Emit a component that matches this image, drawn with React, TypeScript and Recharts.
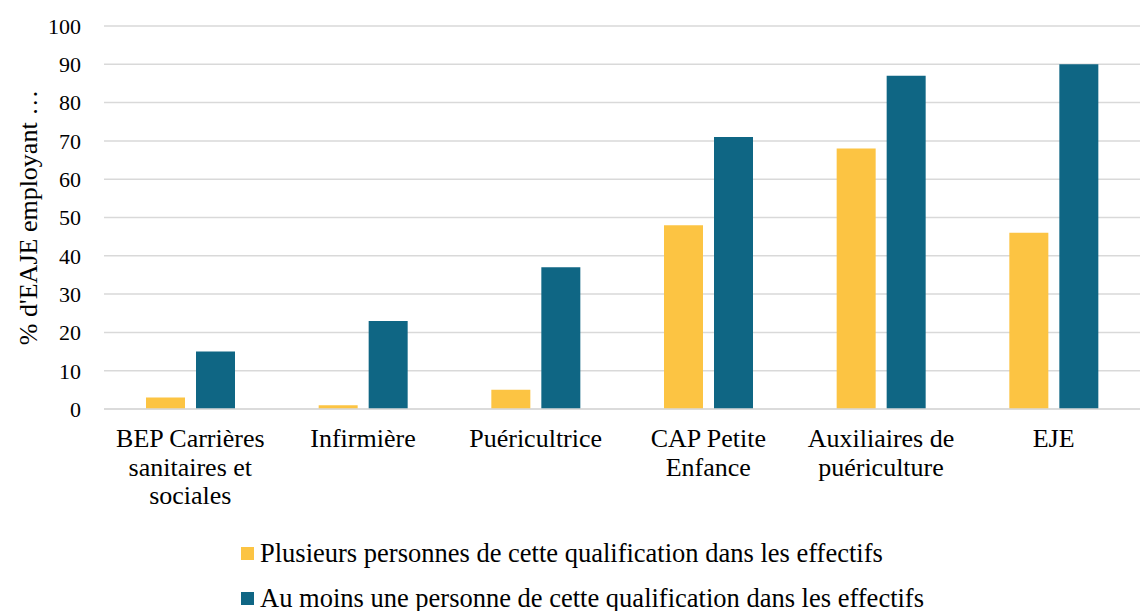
import React from "react";
import { BarChart, Bar, XAxis, YAxis, CartesianGrid, Legend } from "recharts";

const categories = [
  "BEP Carrières\nsanitaires et\nsociales",
  "Infirmière",
  "Puéricultrice",
  "CAP Petite\nEnfance",
  "Auxiliaires de\npuériculture",
  "EJE",
];
const plusieurs = [3, 1, 5, 48, 68, 46];
const auMoinsUne = [15, 23, 37, 71, 87, 90];
const yTicks = [0, 10, 20, 30, 40, 50, 60, 70, 80, 90, 100];

const seriesNames = [
  "Plusieurs personnes de cette qualification dans les effectifs",
  "Au moins une personne de cette qualification dans les effectifs",
];
const colors = ["#FCC443", "#0F6684"];

const data = categories.map((c, i) => ({
  name: c,
  a: plusieurs[i],
  b: auMoinsUne[i],
}));

const FONT = "'Liberation Serif', 'Times New Roman', serif";

const XTick = (props: any) => {
  const { x, y, payload } = props;
  const lines = String(payload.value).split("\n");
  return (
    <text x={x} y={y} textAnchor="middle" fontFamily={FONT} fontSize={26} fill="#000">
      {lines.map((l, i) => (
        <tspan key={i} x={x} y={y + 30 + i * 28.5}>
          {l}
        </tspan>
      ))}
    </text>
  );
};

const LegendContent = () => (
  <div
    style={{
      height: 102,
      boxSizing: "border-box",
      paddingTop: 22,
      paddingLeft: 241,
      fontFamily: FONT,
      fontSize: 26.5,
      color: "#000",
      whiteSpace: "nowrap",
    }}
  >
    {seriesNames.map((n, i) => (
      <div key={i} style={{ height: 45, display: "flex", alignItems: "center" }}>
        <span style={{ display: "inline-block", width: 13, height: 13, background: colors[i], marginRight: 6 }} />
        <span>{n}</span>
      </div>
    ))}
  </div>
);

const YLabel = (props: any) => {
  const vb = props.viewBox || { x: 0, y: 26, width: 103, height: 383 };
  const cx = vb.x + 28;
  const cy = vb.y + vb.height / 2;
  return (
    <text
      x={cx}
      y={cy}
      transform={`rotate(-90 ${cx} ${cy})`}
      textAnchor="middle"
      dominantBaseline="central"
      fontFamily={FONT}
      fontSize={26}
      fill="#000"
    >
      % d'EAJE employant …
    </text>
  );
};

export default function App() {
  return (
    <div style={{ position: "absolute", left: 0, top: 0, width: 1142, height: 611, background: "#fff" }}>
      <BarChart
        width={1142}
        height={611}
        data={data}
        margin={{ top: 26, right: 2, left: 0, bottom: 0 }}
        barSize={39}
        barGap={11}
      >
        <CartesianGrid vertical={false} stroke="#d9d9d9" strokeWidth={1.5} />
        <XAxis
          dataKey="name"
          interval={0}
          height={100}
          tickLine={false}
          axisLine={{ stroke: "#d9d9d9", strokeWidth: 1.5 }}
          tick={<XTick />}
        />
        <YAxis
          width={104}
          domain={[0, 100]}
          ticks={yTicks}
          tickLine={false}
          axisLine={false}
          tickMargin={17}
          tick={{ fontFamily: FONT, fontSize: 22, fill: "#000" }}
          label={<YLabel />}
        />
        <Legend verticalAlign="bottom" wrapperStyle={{ left: 0, width: 1142 }} content={<LegendContent />} />
        <Bar dataKey="a" name={seriesNames[0]} fill={colors[0]} isAnimationActive={false} />
        <Bar dataKey="b" name={seriesNames[1]} fill={colors[1]} isAnimationActive={false} />
      </BarChart>
    </div>
  );
}
